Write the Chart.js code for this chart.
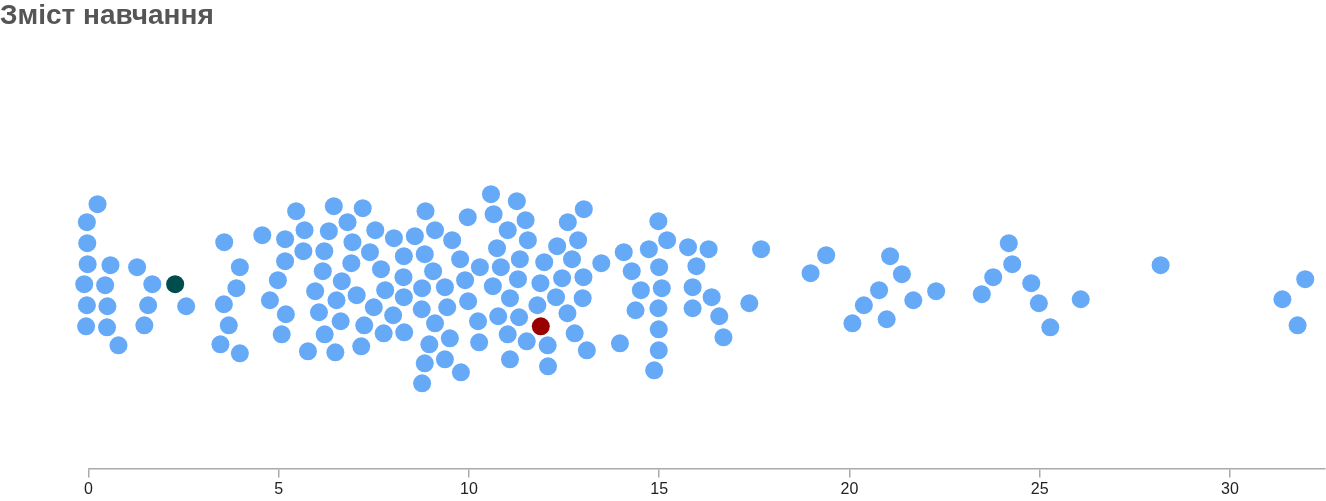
<!DOCTYPE html>
<html lang="uk">
<head>
<meta charset="utf-8">
<title>Зміст навчання</title>
<script src="https://cdn.jsdelivr.net/npm/chart.js@4.4.1/dist/chart.umd.min.js"></script>
<style>
  html, body { margin: 0; padding: 0; background: #fff; }
  #wrap { position: relative; width: 1326px; height: 501px; }
  #title {
    position: absolute; left: 0; top: 1px;
    font: bold 28px/28px "Liberation Sans", Arial, sans-serif;
    color: #555;
  }
</style>
</head>
<body>
<div id="wrap">
  <canvas id="swarm" width="1326" height="501"></canvas>
  <div id="title">Зміст навчання</div>
</div>
<script>
// Оцінки курсів (вісь x) і зміщення точок у «рою» (вісь y)
const courseX = [
  0.24, -0.04, -0.03, -0.02, -0.11, -0.04, -0.06, 0.44, 0.50, 0.49, 0.58, 0.79, 1.28, 1.68, 1.57, 1.47,
  2.57, 3.57, 3.98, 3.89, 3.56, 3.69, 3.47, 3.98,
  4.57, 5.46, 6.45, 7.21, 6.81, 5.17, 5.68, 6.32, 7.54, 8.03, 8.58, 8.86, 9.11, 6.94, 5.65, 6.20,
  7.40, 5.17, 6.91, 8.29, 8.84, 6.16, 7.69, 9.06, 4.98, 6.66, 8.28, 5.96, 7.80, 8.77, 9.37, 4.77,
  6.52, 7.05, 8.29, 5.19, 6.06, 7.50, 8.01, 8.76, 9.43, 6.63, 7.25, 9.11, 5.08, 6.21, 7.76, 8.30,
  8.96, 9.50, 5.77, 6.49, 7.17, 8.84, 9.37, 8.77,
  10.58, 11.26, 9.97, 10.65, 11.49, 13.02, 12.60, 11.02, 9.56, 10.74, 11.55, 12.32, 12.87, 9.77,
  10.29, 10.84, 11.34, 11.98, 12.71, 13.48, 14.07, 14.73, 14.28, 14.52, 14.38, 13.97, 9.90, 9.79,
  10.63, 11.29, 11.88, 12.45, 13.01, 9.98, 11.08, 11.80, 12.29, 12.99, 10.24, 10.77, 11.32, 12.59,
  10.27, 11.02, 11.52, 12.07, 12.78, 13.10, 11.08, 12.08,
  14.98, 15.21, 15.00, 15.07, 14.98, 14.99, 14.99, 14.87, 15.76, 16.30, 15.98, 15.88, 16.38, 15.88,
  16.58, 16.69, 17.68, 17.37,
  19.39, 18.98, 20.08, 20.38, 20.78, 21.07, 21.38, 20.98, 21.68, 22.28, 23.48, 23.78, 24.19, 24.28,
  24.78, 24.98, 25.28,
  26.08, 28.18, 31.98, 31.38, 31.78
];
const courseY = [
  8.0, 6.2, 4.1, 2.0, 0.0, -2.1, -4.2, -0.1, -2.2, -4.3, 1.9, -6.1, 1.7, 0.0, -2.1, -4.1,
  -2.2, 4.2, 1.7, -0.4, -2.0, -4.1, -6.0, -6.9,
  4.9, 7.3, 7.8, 7.6, 6.2, 4.5, 5.4, 5.3, 5.4, 4.6, 4.8, 7.3, 5.4, 4.2, 3.3, 3.3,
  3.2, 2.3, 2.1, 2.8, 3.0, 1.3, 1.5, 1.3, 0.4, 0.3, 0.7, -0.7, -0.6, -0.4, -0.3, -1.6,
  -1.6, -1.1, -1.3, -3.0, -2.8, -2.3, -3.1, -2.5, -2.3, -3.7, -4.1, -3.9, -5.0, -5.0, -4.9, -4.8,
  -6.0, -5.4, -6.7, -6.8, -6.2, -7.9, -7.5, -9.9,
  9.0, 8.3, 6.7, 7.0, 6.4, 7.5, 6.2, 5.4, 4.4, 3.6, 4.4, 3.8, 4.4, 2.5,
  1.7, 1.7, 2.5, 2.2, 2.5, 2.1, 3.2, 3.5, 1.3, -0.6, -2.6, -5.9, 0.4, -8.8,
  -0.2, 0.5, 0.1, 0.6, 0.7, -1.7, -1.4, -2.1, -1.3, -1.4, -3.7, -3.2, -3.3, -2.9,
  -5.8, -5.0, -5.7, -6.1, -4.9, -6.6, -7.5, -8.2,
  6.3, 4.4, 1.7, -0.4, -2.4, -4.5, -6.6, -8.6, 3.7, 3.5, 1.8, -0.3, -1.3, -2.4,
  -3.2, -5.3, 3.5, -1.9,
  2.9, 1.1, -3.9, -2.1, -0.6, 2.8, 1.0, -3.5, -1.6, -0.7, -1.0, 0.7, 4.1, 2.0,
  0.1, -1.9, -4.3,
  -1.5, 1.9, 0.5, -1.5, -4.1
];
// Виділені точки
const markedDarkX = [2.28];
const markedDarkY = [0.0];
const markedRedX = [11.89];
const markedRedY = [-4.2];
const xTicks = [0, 5, 10, 15, 20, 25, 30];

const toPoints = (xs, ys) => xs.map((x, i) => ({ x: x, y: ys[i] }));

const chartSwarm = new Chart(document.getElementById('swarm').getContext('2d'), {
  type: 'scatter',
  data: {
    datasets: [
      {
        label: 'red',
        data: toPoints(markedRedX, markedRedY),
        backgroundColor: '#990000',
        pointRadius: 9,
        borderWidth: 0
      },
      {
        label: 'dark',
        data: toPoints(markedDarkX, markedDarkY),
        backgroundColor: '#004d4d',
        pointRadius: 9,
        borderWidth: 0
      },
      {
        label: 'courses',
        data: toPoints(courseX, courseY),
        backgroundColor: '#66aaf7',
        pointRadius: 9,
        borderWidth: 0
      }
    ]
  },
  options: {
    responsive: false,
    animation: false,
    events: [],
    clip: false,
    layout: { autoPadding: false, padding: { left: 88.4, right: 1, top: 48, bottom: 0 } },
    scales: {
      x: {
        type: 'linear',
        min: 0,
        max: 32.5,
        afterBuildTicks: (axis) => { axis.ticks = xTicks.map(v => ({ value: v })); },
        ticks: {
          padding: 3,
          color: '#222',
          font: { family: '"Liberation Sans", Arial, sans-serif', size: 16, lineHeight: 1.1 }
        },
        grid: { display: true, drawOnChartArea: false, drawTicks: true, tickLength: 9, color: '#aaa', lineWidth: 1.5 },
        border: { display: true, color: '#aaa', width: 1.5 }
      },
      y: { display: false, min: -18.4, max: 23.6 }
    },
    plugins: {
      legend: { display: false },
      tooltip: { enabled: false }
    }
  }
});
</script>
</body>
</html>
